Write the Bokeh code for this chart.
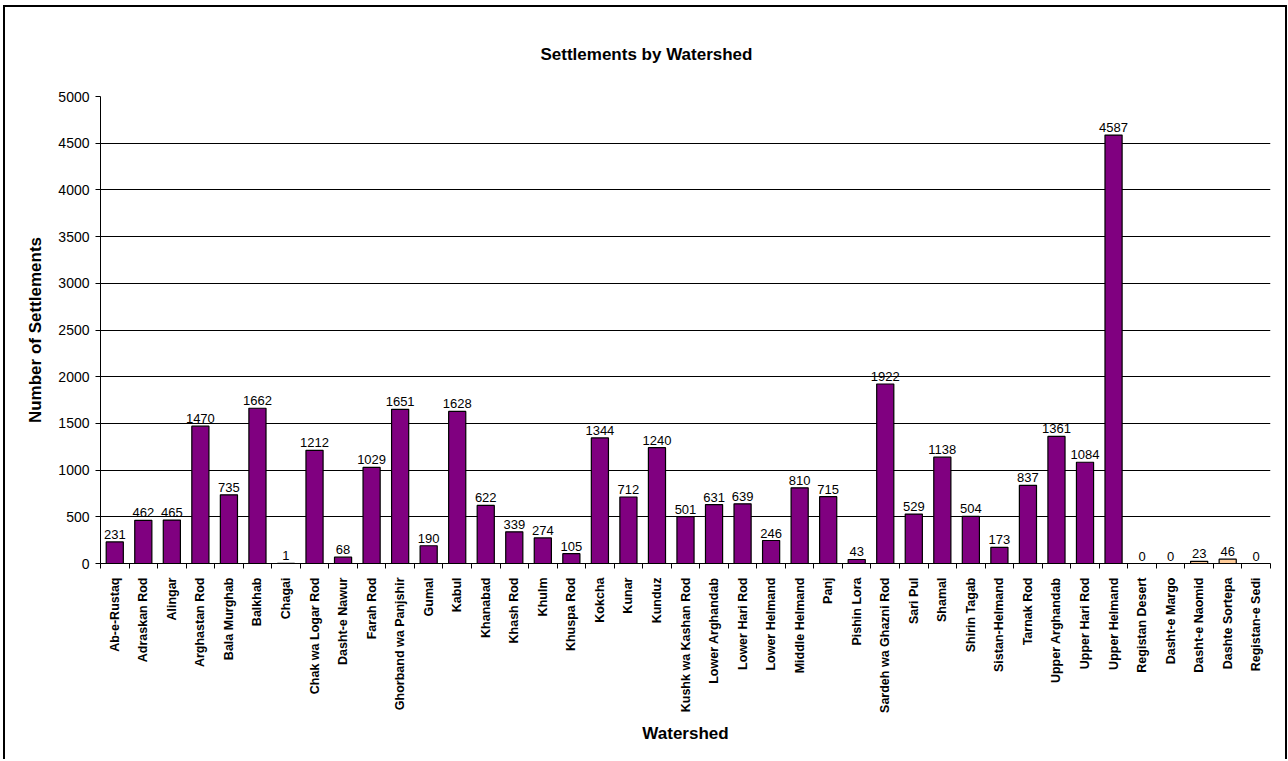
from math import pi
from bokeh.plotting import figure
from bokeh.models import ColumnDataSource, LabelSet, FixedTicker, Range1d
from bokeh.core.properties import value
from bokeh.embed import file_html
from bokeh.resources import INLINE

main_watersheds = [
    "Ab-e-Rustaq", "Adraskan Rod", "Alingar", "Arghastan Rod", "Bala Murghab",
    "Balkhab", "Chagai", "Chak wa Logar Rod", "Dasht-e Nawur", "Farah Rod",
    "Ghorband wa Panjshir", "Gumal", "Kabul", "Khanabad", "Khash Rod", "Khulm",
    "Khuspa Rod", "Kokcha", "Kunar", "Kunduz", "Kushk wa Kashan Rod",
    "Lower Arghandab", "Lower Hari Rod", "Lower Helmand", "Middle Helmand",
    "Panj", "Pishin Lora", "Sardeh wa Ghazni Rod", "Sari Pul", "Shamal",
    "Shirin Tagab", "Sistan-Helmand", "Tarnak Rod", "Upper Arghandab",
    "Upper Hari Rod", "Upper Helmand",
]
main_counts = [
    231, 462, 465, 1470, 735, 1662, 1, 1212, 68, 1029, 1651, 190, 1628, 622,
    339, 274, 105, 1344, 712, 1240, 501, 631, 639, 246, 810, 715, 43, 1922,
    529, 1138, 504, 173, 837, 1361, 1084, 4587,
]
other_watersheds = ["Registan Desert", "Dasht-e Margo", "Dasht-e Naomid",
                    "Dashte Sortepa", "Registan-e Sedi"]
other_counts = [0, 0, 23, 46, 0]
y_ticks = [0, 500, 1000, 1500, 2000, 2500, 3000, 3500, 4000, 4500, 5000]

FONT = "Liberation Sans"

names = main_watersheds + other_watersheds
n = len(names)
src_main = ColumnDataSource(dict(
    x=list(range(len(main_watersheds))),
    top=main_counts,
    label=[str(v) for v in main_counts],
))
src_other = ColumnDataSource(dict(
    x=list(range(len(main_watersheds), n)),
    top=other_counts,
    label=[str(v) for v in other_counts],
))

p = figure(frame_width=1170, frame_height=467,
           min_border_left=95, min_border_right=15,
           min_border_top=89, min_border_bottom=196,
           x_range=Range1d(-0.5, n - 0.5), y_range=Range1d(0, 5000),
           output_backend="svg", toolbar_location=None,
           background_fill_color="white", border_fill_color="white")
p.outline_line_color = None
p.styles = {"border-left": "2px solid black", "border-top": "2px solid black",
            "border-right": "2px solid black", "margin-left": "3px",
            "margin-top": "5px"}

p.vbar(x="x", top="top", width=0.6, source=src_main,
       fill_color="#800080", line_color="black", line_width=1.2)
p.vbar(x="x", top="top", width=0.6, source=src_other,
       fill_color="#FFCC99", line_color="black", line_width=1.2)

for src in (src_main, src_other):
    p.add_layout(LabelSet(x="x", y="top", text="label", source=src,
                          y_offset=3, text_align="center", text_baseline="bottom",
                          text_font=value(FONT), text_font_size="13px",
                          text_color="black"))

# title
p.title.text = "Settlements by Watershed"
p.title.align = "left"
p.title.offset = 440
p.title.standoff = 66
p.title.text_font = FONT
p.title.text_font_size = "17px"
p.title.text_font_style = "bold"
p.title.text_color = "black"

# y axis
p.yaxis.ticker = FixedTicker(ticks=y_ticks)
p.yaxis.axis_label = "Number of Settlements"
p.yaxis.axis_label_text_font = FONT
p.yaxis.axis_label_text_font_size = "17px"
p.yaxis.axis_label_text_font_style = "bold"
p.yaxis.axis_label_text_color = "black"
p.yaxis.axis_label_standoff = 10
p.yaxis.major_label_text_font = FONT
p.yaxis.major_label_text_font_size = "14px"
p.yaxis.major_label_text_color = "black"
p.yaxis.major_label_standoff = 6
p.yaxis.major_tick_out = 5
p.yaxis.major_tick_in = 0
p.yaxis.minor_tick_line_color = None
p.yaxis.axis_line_color = "black"
p.yaxis.major_tick_line_color = "black"

# x axis
p.xaxis.ticker = FixedTicker(ticks=list(range(n)),
                             minor_ticks=[i - 0.5 for i in range(n + 1)])
p.xaxis.major_label_overrides = {i: name for i, name in enumerate(names)}
p.xaxis.major_label_orientation = pi / 2
p.xaxis.major_label_text_font = FONT
p.xaxis.major_label_text_font_size = "12.5px"
p.xaxis.major_label_text_font_style = "bold"
p.xaxis.major_label_text_color = "black"
p.xaxis.major_label_standoff = 8
p.xaxis.major_tick_line_color = None
p.xaxis.minor_tick_line_color = "black"
p.xaxis.minor_tick_out = 5
p.xaxis.minor_tick_in = 0
p.xaxis.axis_line_color = "black"
p.xaxis.axis_label = "Watershed"
p.xaxis.axis_label_text_font = FONT
p.xaxis.axis_label_text_font_size = "17px"
p.xaxis.axis_label_text_font_style = "bold"
p.xaxis.axis_label_text_color = "black"
p.xaxis.axis_label_standoff = 8

# grid
p.xgrid.visible = False
p.ygrid.ticker = FixedTicker(ticks=y_ticks)
p.ygrid.grid_line_color = "black"
p.ygrid.grid_line_width = 1

open("out.html", "w").write(file_html(p, INLINE))
